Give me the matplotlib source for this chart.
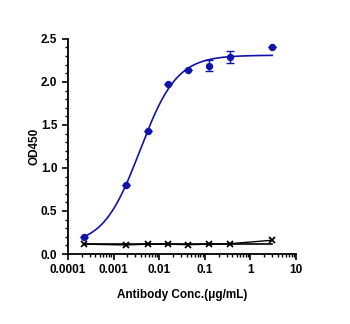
import numpy as np
import matplotlib
matplotlib.use("Agg")
import matplotlib.pyplot as plt
from matplotlib.ticker import LogLocator, MultipleLocator

plt.rcParams['font.family'] = ['Liberation Sans', 'DejaVu Sans']
plt.rcParams['font.weight'] = 'bold'

# ======================================================
# DATA
# ======================================================

conc = [0.000224, 0.00187, 0.0057, 0.0156, 0.043, 0.124, 0.357, 3.0]
od_ab = [0.20, 0.80, 1.43, 1.98, 2.14, 2.19, 2.29, 2.40]
err_ab = [0.0, 0.0, 0.0, 0.0, 0.0, 0.065, 0.065, 0.0]
od_ctrl = [0.115, 0.105, 0.115, 0.115, 0.108, 0.115, 0.12, 0.16]

# 4PL fit parameters (bottom, top, EC50, hill)
fit_bottom = 0.10
fit_top = 2.31
fit_ec50 = 0.0038
fit_hill = 1.077
ctrl_fit_level = 0.115

blue = "#1014a8"

# ======================================================
# PLOT
# ======================================================

fig = plt.figure(figsize=(3.5, 3.24), dpi=100)
ax = fig.add_axes([0.194, 0.216, 0.652, 0.664])

xf = np.logspace(np.log10(conc[0]), np.log10(conc[-1]), 300)
yf = fit_bottom + (fit_top - fit_bottom) / (1 + (fit_ec50 / xf) ** fit_hill)
ax.plot(xf, yf, color=blue, linewidth=1.2)

ax.errorbar(conc, od_ab, yerr=err_ab, fmt="o", color=blue,
            markersize=4.3, capsize=3, elinewidth=1, capthick=1)

ax.plot([conc[0], conc[-1]], [ctrl_fit_level, ctrl_fit_level],
        color="black", linewidth=1.2)
ax.plot(conc, od_ctrl, "x-", color="black", markersize=4.5,
        markeredgewidth=1.3, linewidth=1.0)

ax.set_xscale("log")
ax.set_xlim(0.0001, 10)
ax.set_ylim(0, 2.5)
ax.set_xticks([0.0001, 0.001, 0.01, 0.1, 1, 10])
ax.set_xticklabels(["0.0001", "0.001", "0.01", "0.1", "1", "10"])
ax.xaxis.set_minor_locator(LogLocator(base=10, subs=np.arange(2, 10)))
ax.yaxis.set_major_locator(MultipleLocator(0.5))
ax.yaxis.set_minor_locator(MultipleLocator(0.1))
ax.yaxis.set_major_formatter(plt.FormatStrFormatter("%.1f"))

for s in ["top", "right"]:
    ax.spines[s].set_visible(False)
for s in ["left", "bottom"]:
    ax.spines[s].set_linewidth(1.3)

ax.tick_params(which="major", length=4, width=1.2, labelsize=8.5, direction="out")
ax.tick_params(which="minor", length=2.5, width=1.0, direction="out")

ax.set_ylabel("OD450", fontsize=8.5, fontweight="bold", labelpad=0)
ax.set_xlabel("Antibody Conc.(\u03bcg/mL)", fontsize=8.5, fontweight="bold", labelpad=9)

fig.savefig("out.png", dpi=100)
